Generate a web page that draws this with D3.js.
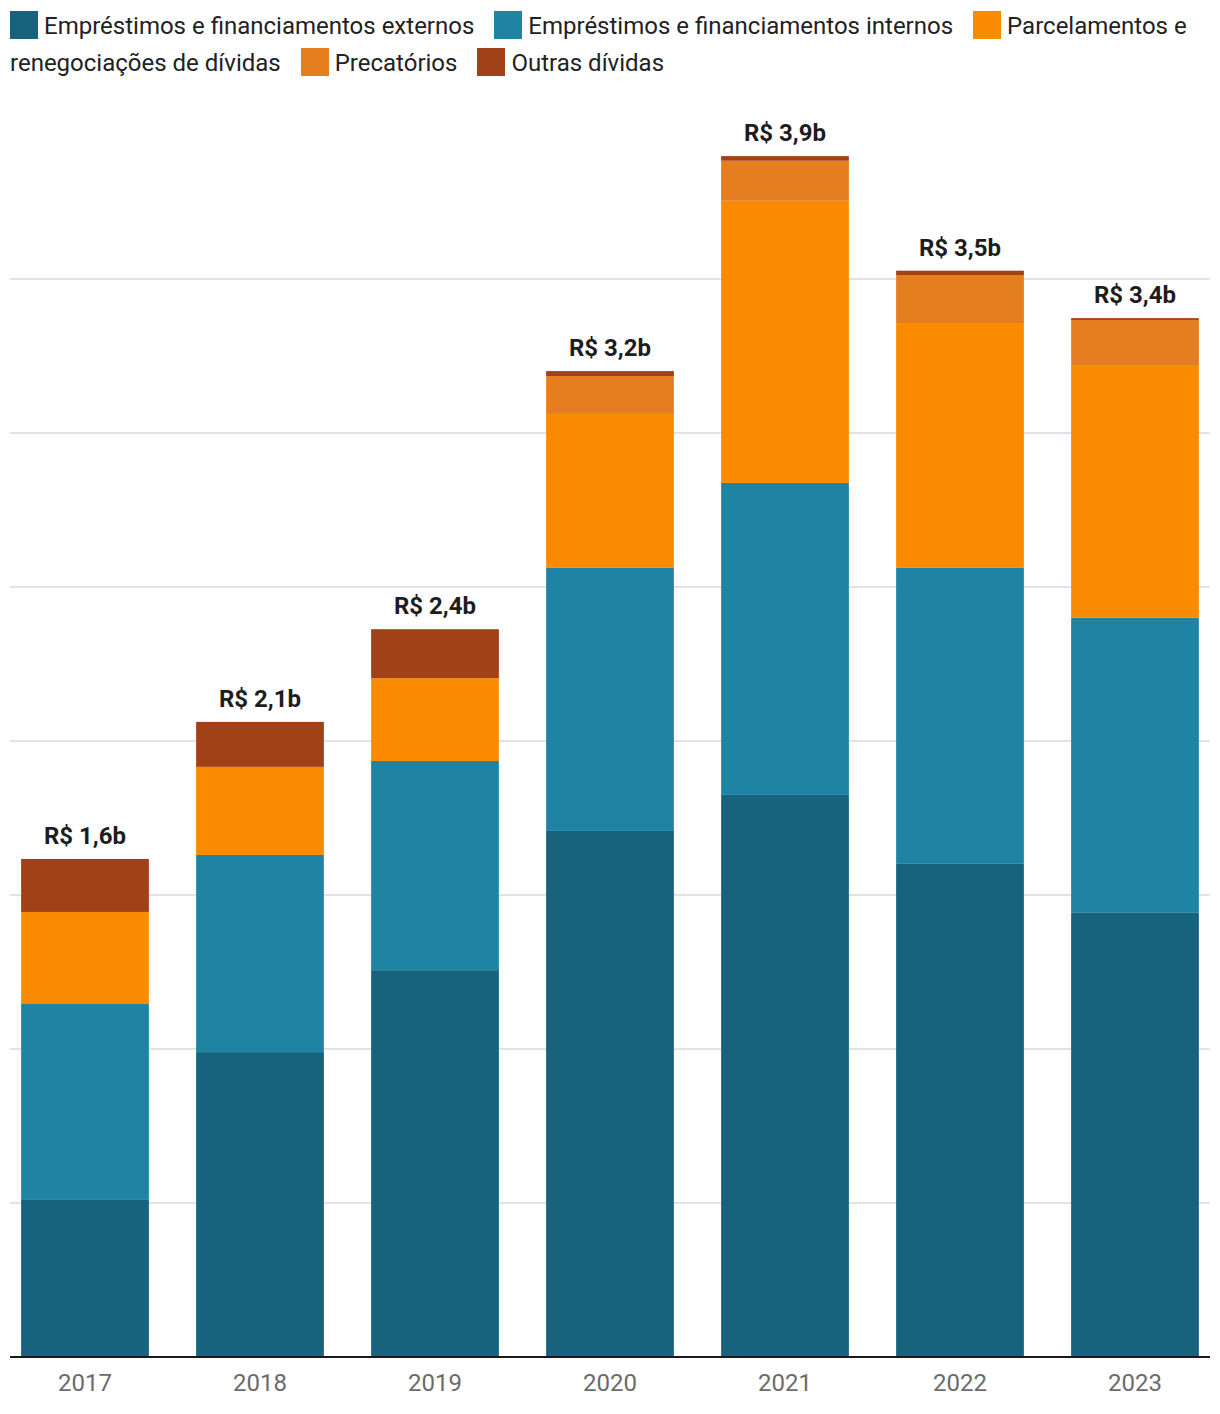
<!DOCTYPE html>
<html><head><meta charset="utf-8">
<script src="https://cdn.jsdelivr.net/npm/d3@7"></script>
<style>
body{margin:0;background:#fff;font-family:Roboto,"Noto Sans",sans-serif;}
#legend{position:absolute;left:10px;top:8px;width:1200px;font-size:24px;line-height:37px;color:#222;}
#legend .sw{display:inline-block;width:28px;height:28px;vertical-align:-5px;margin-right:6px;}
#legend .gap{display:inline-block;width:20px;}
</style></head>
<body>
<div id="legend"></div>
<svg id="chart" width="1220" height="1414" style="position:absolute;left:0;top:0"></svg>
<script>
const years = ["2017","2018","2019","2020","2021","2022","2023"];
const seriesNames = ["Empréstimos e financiamentos externos","Empréstimos e financiamentos internos","Parcelamentos e renegociações de dívidas","Precatórios","Outras dívidas"];
const colors = ["#17627d","#1f84a4","#fa8b00","#e57e1f","#a04117"];
const externos = [0.510,0.990,1.256,1.708,1.825,1.601,1.442];
const internos = [0.636,0.640,0.679,0.854,1.013,0.961,0.958];
const parcelamentos = [0.299,0.286,0.269,0.500,0.916,0.795,0.818];
const precatorios = [0,0,0,0.123,0.130,0.156,0.149];
const outras = [0.172,0.146,0.159,0.016,0.015,0.014,0.006];
const gridTicks = [0.5,1,1.5,2,2.5,3,3.5];

const seriesData = [externos,internos,parcelamentos,precatorios,outras];

// legend: each word its own span so wrapped items keep tight boxes
const legEl = document.getElementById("legend");
seriesNames.forEach((n,i)=>{
  const sw = document.createElement("span");
  sw.className="sw"; sw.style.background=colors[i];
  legEl.appendChild(sw);
  const words = n.split(" ");
  words.forEach((w,j)=>{
    const s=document.createElement("span");
    s.textContent=w;
    legEl.appendChild(s);
    if(j<words.length-1) legEl.appendChild(document.createTextNode(" "));
  });
  if(i<seriesNames.length-1){
    const g=document.createElement("span"); g.className="gap";
    legEl.appendChild(g);
  }
});

const svg = d3.select("#chart");
const x = d3.scaleBand().domain(years).range([10,1210]).paddingInner(0.27).paddingOuter(0.0636);
const y = d3.scaleLinear().domain([0,4]).range([1357,125]);

svg.append("g").selectAll("line").data(gridTicks).join("line")
  .attr("x1",10).attr("x2",1210)
  .attr("y1",d=>y(d)).attr("y2",d=>y(d))
  .attr("stroke","#e3e3e3").attr("stroke-width",2);

const rows = years.map((yr,i)=>{
  const o={year:yr};
  seriesNames.forEach((n,k)=>o[n]=seriesData[k][i]);
  return o;
});
const stacked = d3.stack().keys(seriesNames)(rows);

svg.append("g").selectAll("g").data(stacked).join("g")
  .attr("fill",(d,i)=>colors[i])
  .selectAll("rect").data(d=>d).join("rect")
  .attr("x",d=>x(d.data.year))
  .attr("width",x.bandwidth())
  .attr("y",d=>y(d[1]))
  .attr("height",d=>Math.max(0,y(d[0])-y(d[1])));

const totals = years.map((yr,i)=>({year:yr,v:d3.sum(seriesData,s=>s[i])}));
svg.append("g").selectAll("text").data(totals).join("text")
  .attr("x",d=>x(d.year)+x.bandwidth()/2)
  .attr("y",d=>y(d.v)-15)
  .attr("text-anchor","middle")
  .attr("font-family","Roboto")
  .attr("font-weight","bold")
  .attr("font-size",24)
  .attr("fill","#1d1d1d")
  .text(d=>"R$ "+d.v.toFixed(1).replace(".",",")+"b");

const ax = svg.append("g").attr("transform","translate(0,1357)")
  .call(d3.axisBottom(x).tickSize(0).tickPadding(17));
ax.select(".domain").attr("stroke","#1a1a1a").attr("stroke-width",2).attr("d","M10,0H1210");
ax.selectAll("text").attr("font-family","Roboto").attr("font-size",24).attr("fill","#6b6b6b");
</script>
</body></html>
